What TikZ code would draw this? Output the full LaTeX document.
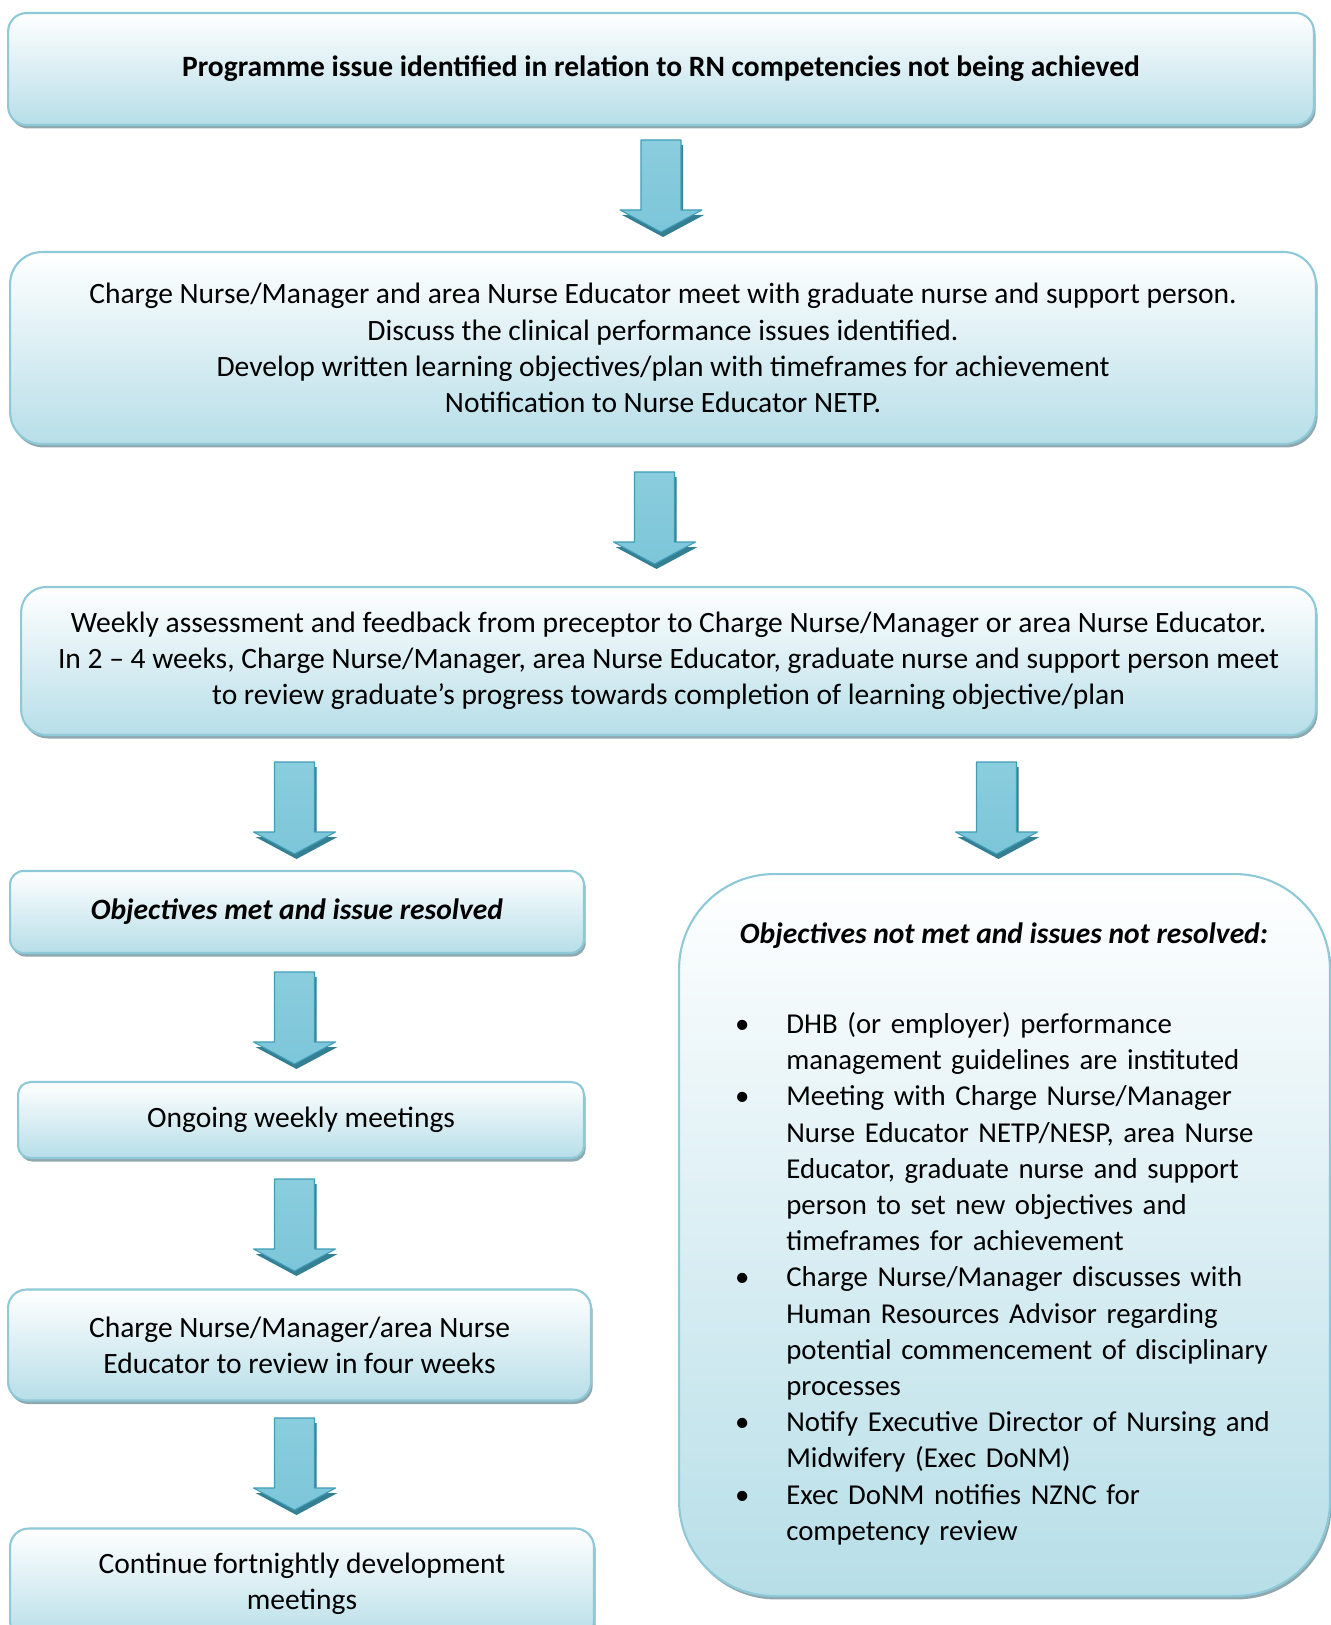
\documentclass[tikz,border=0pt]{standalone}
\usepackage{fontspec}
\setmainfont{Carlito}
\usepackage{enumitem}
\usetikzlibrary{shadows}
\definecolor{boxline}{HTML}{8EC9D8}
\definecolor{boxfill}{HTML}{B7DEE8}
\definecolor{boxshadow}{HTML}{8FA8B0}
\definecolor{arrmid}{HTML}{46A8C3}
\definecolor{arrlight}{HTML}{8ACDDE}
\definecolor{arrline}{HTML}{3F9DB7}
\definecolor{arrshadow}{HTML}{357F93}
\newcommand{\bodyfont}{\fontsize{16.8}{20.6}\selectfont}
\newcommand{\listfont}{\fontsize{16.4}{20.6}\selectfont}

\begin{document}
\begin{tikzpicture}[
    x=0.02cm, y=-0.02cm,
    box/.style={
        rectangle, rounded corners=#1, draw=boxline, line width=1.2pt,
        top color=white, bottom color=boxfill, align=center, inner sep=0pt,
        drop shadow={shadow xshift=1pt, shadow yshift=-2pt, fill=boxshadow, opacity=1},
        font=\bodyfont
    },
    box/.default=0.37cm,
    plain/.style={inner sep=0pt, font=\bodyfont},
    downarr/.pic={
        \fill[arrshadow] (-18,5) -- (22,5) -- (22,75) -- (43,75) -- (2,97) -- (-39,75) -- (-18,75) -- cycle;
        \shade[top color=arrlight, middle color=arrmid, bottom color=arrlight!80!arrmid]
            (-20,0) -- (20,0) -- (20,70) -- (41,70) -- (0,92) -- (-41,70) -- (-20,70) -- cycle;
        \draw[arrline, line width=0.6pt, line join=round]
            (-20,0) -- (20,0) -- (20,70) -- (41,70) -- (0,92) -- (-41,70) -- (-20,70) -- cycle;
    }
]
\useasboundingbox (0,0) rectangle (1330,1625);

% ---------------- top row ----------------
\node[box=0.37cm, minimum width=26.12cm, minimum height=2.24cm] (issue) at (661,69)
    {\bfseries Programme issue identified in relation to RN competencies not being achieved};
\node[box=0.64cm, minimum width=26.12cm, minimum height=3.84cm] (meet) at (663,348)
    {Charge Nurse/Manager and area Nurse Educator meet with graduate nurse and support person.\\
     Discuss the clinical performance issues identified.\\
     Develop written learning objectives/plan with timeframes for achievement\\
     Notification to Nurse Educator NETP.};
\node[box=0.5cm, minimum width=25.9cm, minimum height=2.96cm] (weekly) at (668.5,661)
    {Weekly assessment and feedback from preceptor to Charge Nurse/Manager or area Nurse Educator.\\
     In 2 -- 4 weeks, Charge Nurse/Manager, area Nurse Educator, graduate nurse and support person meet\\
     to review graduate’s progress towards completion of learning objective/plan};

\pic at (661,140) {downarr};
\pic at (654.5,472) {downarr};

% ---------------- left branch ----------------
\pic at (294.5,762) {downarr};
\node[box=0.27cm, minimum width=11.48cm, minimum height=1.64cm] (met) at (297,912)
    {\bfseries\itshape Objectives met and issue resolved};
\pic at (294.5,972) {downarr};
\node[box=0.25cm, minimum width=11.32cm, minimum height=1.52cm] (ongoing) at (301,1120)
    {Ongoing weekly meetings};
\pic at (294.5,1179) {downarr};
\node[box=0.37cm, minimum width=11.66cm, minimum height=2.22cm] (review) at (299.5,1345)
    {Charge Nurse/Manager/area Nurse\\Educator to review in four weeks};
\pic at (294.5,1418) {downarr};
\node[box=0.37cm, minimum width=11.68cm, minimum height=2.22cm] (fortnight) at (302,1584)
    {Continue fortnightly development\\meetings};

% ---------------- right branch ----------------
\pic at (996.5,762) {downarr};
\node[box=1.9cm, minimum width=13.02cm, minimum height=14.44cm] (notmet) at (1004.5,1235) {};
\node[plain] (notmettitle) at (1004,936)
    {\bfseries\itshape Objectives not met and issues not resolved:};
\node[plain, anchor=north west, text width=12.4cm, align=left, font=\listfont] (actions) at (700,997)
    {\raggedright
     \begin{itemize}[leftmargin=1.72cm, labelsep=0.74cm, itemsep=0pt, topsep=0pt,
                     parsep=0pt, partopsep=0pt, label=\textbullet]
     \item DHB (or employer) performance\newline management guidelines are instituted
     \item Meeting with Charge Nurse/Manager\newline Nurse Educator NETP/NESP, area Nurse\newline
           Educator, graduate nurse and support\newline person to set new objectives and\newline
           timeframes for achievement
     \item Charge Nurse/Manager discusses with\newline Human Resources Advisor regarding\newline
           potential commencement of disciplinary\newline processes
     \item Notify Executive Director of Nursing and\newline Midwifery (Exec DoNM)
     \item Exec DoNM notifies NZNC for\newline competency review
     \end{itemize}};

\end{tikzpicture}
\end{document}
